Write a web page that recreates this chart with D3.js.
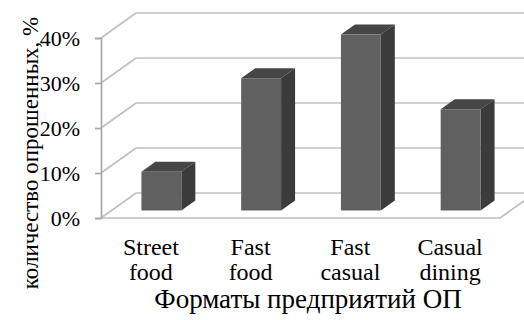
<!DOCTYPE html>
<html>
<head>
<meta charset="utf-8">
<script src="https://cdn.jsdelivr.net/npm/d3@7"></script>
<style>
  html, body { margin: 0; padding: 0; background: #fff; }
  svg { display: block; }
  text { font-family: "Liberation Serif", "Times New Roman", serif; fill: #000; }
</style>
</head>
<body>
<svg id="chart" width="524" height="320"></svg>
<script>
// Survey data: share of respondents per food-service format
const categories = [["Street", "food"], ["Fast", "food"], ["Fast", "casual"], ["Casual", "dining"]];
const values = [8.6, 29.4, 39.1, 22.5];
const tickValues = [0, 10, 20, 30, 40];
const yTitle = "количество опрошенных, %";
const xTitle = "Форматы предприятий ОП";

const svg = d3.select("#chart");

// Front plane of the 3D box and the depth vector toward the back wall
const plotLeft = 101, plotRight = 500;
const DX = 35, DY = -25;
const barFront = 0.3, barBack = 0.7;   // bar depth as a fraction of the box depth

const y = d3.scaleLinear().domain([0, 40]).range([218, 38]);
const x = d3.scaleBand()
  .domain(d3.range(categories.length))
  .range([plotLeft, plotRight])
  .paddingInner(0.6)
  .paddingOuter(0.3);

const gridColor = "#c0c0c0";
const g = svg.append("g");

// Back wall gridlines and side wall diagonals
tickValues.forEach(t => {
  const yy = y(t);
  g.append("line")
    .attr("x1", plotLeft + DX).attr("y1", yy + DY)
    .attr("x2", plotRight + DX).attr("y2", yy + DY)
    .attr("stroke", gridColor).attr("stroke-width", 1.7);
  g.append("line")
    .attr("x1", plotLeft).attr("y1", yy)
    .attr("x2", plotLeft + DX).attr("y2", yy + DY)
    .attr("stroke", gridColor).attr("stroke-width", 1.7);
});

// Floor outline: front edge and right edge
g.append("polyline")
  .attr("points", [[plotLeft, y(0)], [plotRight, y(0)], [plotRight + DX, y(0) + DY]].map(p => p.join(",")).join(" "))
  .attr("fill", "none").attr("stroke", gridColor).attr("stroke-width", 1.7);

// Value axis on the front-left edge
const axis = d3.axisLeft(y)
  .tickValues(tickValues)
  .tickFormat(d => d + "%")
  .tickSize(6)
  .tickPadding(15);
const ax = svg.append("g").attr("transform", `translate(${plotLeft},0)`).call(axis);
ax.select(".domain").attr("stroke", "#a8a8a8").attr("stroke-width", 1.7);
ax.selectAll(".tick line").attr("stroke", "#a8a8a8").attr("stroke-width", 1.7);
ax.selectAll(".tick text")
  .style("font-family", '"Liberation Serif", "Times New Roman", serif')
  .style("font-size", "22px")
  .attr("fill", "#000");

// 3D bars: front, top and right side faces
const ox = DX * barFront, oy = DY * barFront;
const ddx = DX * (barBack - barFront), ddy = DY * (barBack - barFront);
const bars = svg.append("g").selectAll("g").data(values).join("g");
bars.each(function(v, i) {
  const gb = d3.select(this);
  const x0 = x(i) + ox, x1 = x(i) + x.bandwidth() + ox;
  const yt = y(v) + oy, yb = y(0) + oy;
  gb.append("polygon")
    .attr("points", [[x0, yt], [x0 + ddx, yt + ddy], [x1 + ddx, yt + ddy], [x1, yt]].map(p => p.join(",")).join(" "))
    .attr("fill", "#464646");
  gb.append("polygon")
    .attr("points", [[x1, yt], [x1 + ddx, yt + ddy], [x1 + ddx, yb + ddy], [x1, yb]].map(p => p.join(",")).join(" "))
    .attr("fill", "#3b3b3b");
  gb.append("rect")
    .attr("x", x0).attr("y", yt)
    .attr("width", x1 - x0).attr("height", yb - yt)
    .attr("fill", "#606060");
});

// Category labels (two lines each)
const cat = svg.append("g").selectAll("text").data(categories).join("text")
  .attr("text-anchor", "middle")
  .style("font-size", "24px");
cat.each(function(lines, i) {
  const cx = x(i) + x.bandwidth() / 2;
  d3.select(this).selectAll("tspan").data(lines).join("tspan")
    .attr("x", cx)
    .attr("y", (d, k) => 255 + k * 25)
    .text(d => d);
});

// Axis titles
svg.append("text")
  .attr("x", 308).attr("y", 308)
  .attr("text-anchor", "middle")
  .style("font-size", "27px")
  .text(xTitle);

svg.append("text")
  .attr("transform", "translate(38,153) rotate(-90)")
  .attr("text-anchor", "middle")
  .style("font-size", "23px")
  .text(yTitle);
</script>
</body>
</html>
